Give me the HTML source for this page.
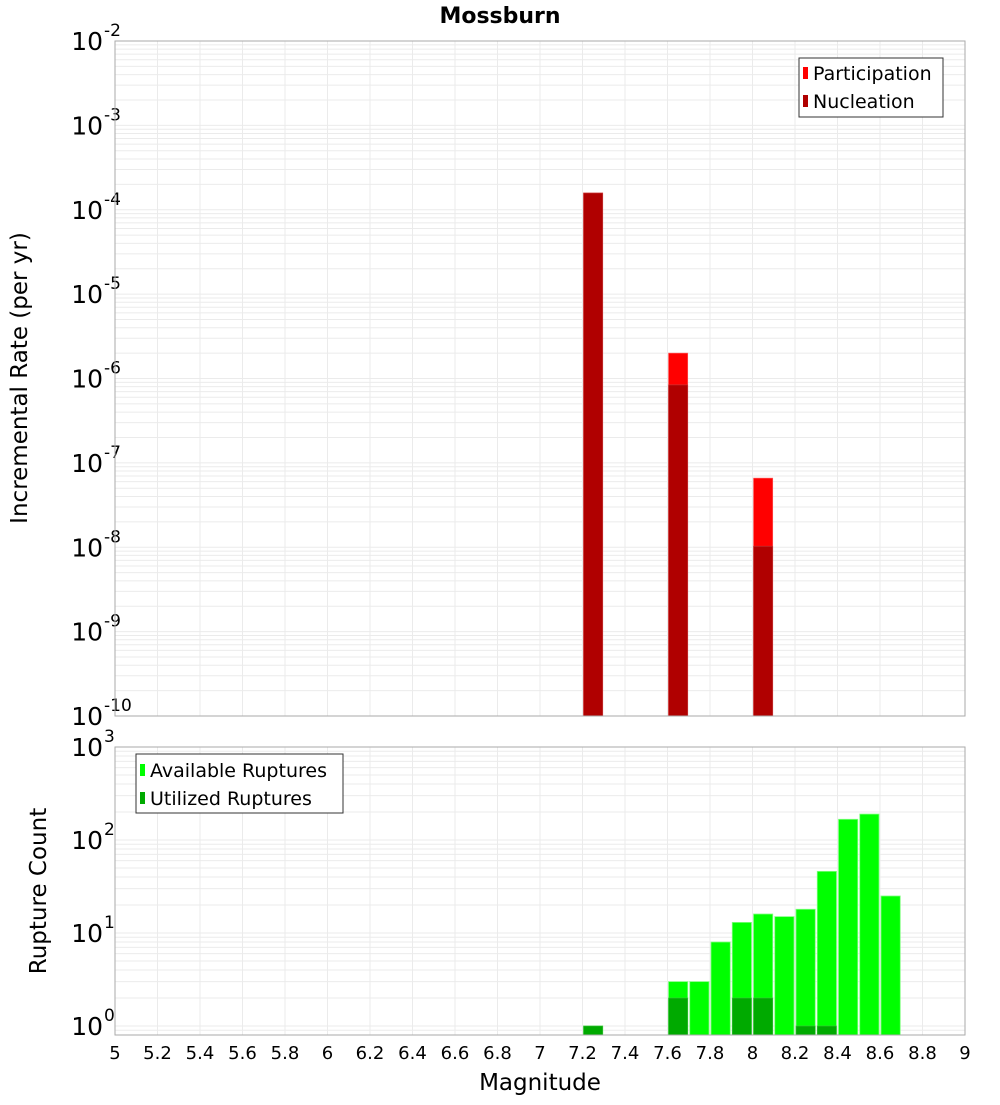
<!DOCTYPE html>
<html><head><meta charset="utf-8"><style>
html,body{margin:0;padding:0;background:#fff;}
svg text{font-family:"DejaVu Sans","Liberation Sans",sans-serif;}
</style></head><body>
<svg id="chart" width="1000" height="1100" viewBox="0 0 1000 1100" xmlns="http://www.w3.org/2000/svg">
<text x="500" y="23" text-anchor="middle" font-size="22" font-weight="bold">Mossburn</text>
<g id="topPlot"></g>
<g id="botPlot"></g>
<text transform="translate(27,378) rotate(-90)" text-anchor="middle" font-size="23">Incremental Rate (per yr)</text>
<text transform="translate(46,891) rotate(-90)" text-anchor="middle" font-size="23">Rupture Count</text>
<text x="540" y="1090" text-anchor="middle" font-size="23">Magnitude</text>
<g>
<rect x="799" y="58" width="144" height="59" fill="#fff" stroke="#333" stroke-width="1"/>
<rect x="803" y="67" width="5" height="12" fill="#ff0000"/>
<text x="813" y="80" font-size="19">Participation</text>
<rect x="803" y="95" width="5" height="12" fill="#b00000"/>
<text x="813" y="108" font-size="19">Nucleation</text>
</g>
<g>
<rect x="136" y="754" width="207" height="59" fill="#fff" stroke="#333" stroke-width="1"/>
<rect x="140" y="764" width="5" height="12" fill="#00ff00"/>
<text x="150" y="777" font-size="19">Available Ruptures</text>
<rect x="140" y="792" width="5" height="12" fill="#00aa00"/>
<text x="150" y="805" font-size="19">Utilized Ruptures</text>
</g>
</svg>
<script>
const rateMags = [7.25, 7.65, 8.05];
const participation = [1.58e-4, 2.0e-6, 6.6e-8];
const nucleation = [1.58e-4, 8.4e-7, 1.03e-8];
const countMags = [7.25, 7.65, 7.75, 7.85, 7.95, 8.05, 8.15, 8.25, 8.35, 8.45, 8.55, 8.65];
const available = [1, 3, 3, 8, 13, 16, 15, 18, 46, 167, 190, 25];
const utilized = [1, 2, 0, 0, 2, 2, 0, 1, 1, 0, 0, 0];
const xTicks = [5,5.2,5.4,5.6,5.8,6,6.2,6.4,6.6,6.8,7,7.2,7.4,7.6,7.8,8,8.2,8.4,8.6,8.8,9];
const xTickLabels = ["5","5.2","5.4","5.6","5.8","6","6.2","6.4","6.6","6.8","7","7.2","7.4","7.6","7.8","8","8.2","8.4","8.6","8.8","9"];
const rateExps = [-2,-3,-4,-5,-6,-7,-8,-9,-10];
const countExps = [3,2,1,0];

const NS = "http://www.w3.org/2000/svg";
const X0 = 115, X1 = 965;
const xs = m => X0 + (m - 5) / 4 * (X1 - X0);
function mk(tag, attrs, parent){ const e=document.createElementNS(NS,tag); for(const k in attrs) e.setAttribute(k,attrs[k]); parent.appendChild(e); return e; }

function plot(g, y0, y1, logMax, logMin, exps){
  const ys = v => y0 + (logMax - Math.log10(v)) / (logMax - logMin) * (y1 - y0);
  mk('rect',{x:X0,y:y0,width:X1-X0,height:y1-y0,fill:'#fff'},g);
  for(let e=Math.floor(logMin); e<=logMax; e++){
    for(let k=1;k<10;k++){
      const v=k*Math.pow(10,e); const lv=Math.log10(v);
      if(lv<logMin-1e-9||lv>logMax+1e-9) continue;
      const y=ys(v);
      const l=mk('line',{x1:X0,x2:X1,y1:y,y2:y,stroke:'#ebebeb','stroke-width':1},g);
      
      
    }
  }
  xTicks.forEach(t=>{
    const x=xs(t);
    const l=mk('line',{x1:x,x2:x,y1:y0,y2:y1,stroke:'#ebebeb','stroke-width':1},g);
    
    
  });
  exps.forEach(e=>{
    const y=ys(Math.pow(10,e));
    const t=mk('text',{x:103,y:y+9,'text-anchor':'end','font-size':25},g);
    
    
    t.textContent='10';
    const s=mk('text',{x:104,y:y-5,'font-size':17},g);
    
    
    s.textContent=String(e);
  });
  return ys;
}

const topG=document.getElementById('topPlot');
const ysT=plot(topG,41,716,-2,-10,rateExps);
const bw=0.1*(X1-X0)/4;
rateMags.forEach((m,i)=>{
  const x=xs(m)-bw/2+1, yb=716;
  let y=ysT(participation[i]);
  let r=mk('rect',{x:x,y:y,width:bw-2,height:yb-y,fill:'#ff0000',stroke:'#ff6060','stroke-width':0.6},topG);
  
  
  y=ysT(nucleation[i]);
  r=mk('rect',{x:x,y:y,width:bw-2,height:yb-y,fill:'#b00000',stroke:'#c84040','stroke-width':0.6},topG);
  
  
});
mk('rect',{x:X0,y:41,width:X1-X0,height:675,fill:'none',stroke:'#aaa','stroke-width':1},topG);

const botG=document.getElementById('botPlot');
const cMin=Math.log10(0.8);
const ysB=plot(botG,747,1035,3,cMin,countExps);
countMags.forEach((m,i)=>{
  const x=xs(m)-bw/2+1, yb=1035;
  if(available[i]>0){
    const y=ysB(available[i]);
    const r=mk('rect',{x:x,y:y,width:bw-2,height:yb-y,fill:'#00ff00',stroke:'#80ff80','stroke-width':0.8},botG);
    
    
  }
  if(utilized[i]>0){
    const y=ysB(utilized[i]);
    const r=mk('rect',{x:x,y:y,width:bw-2,height:yb-y,fill:'#00aa00',stroke:'#40c040','stroke-width':0.6},botG);
    
    
  }
});
mk('rect',{x:X0,y:747,width:X1-X0,height:288,fill:'none',stroke:'#aaa','stroke-width':1},botG);
xTicks.forEach((t,i)=>{
  const tx=mk('text',{x:xs(t),y:1059,'text-anchor':'middle','font-size':18},botG);
  
  
  tx.textContent=xTickLabels[i];
});
</script>
</body></html>
